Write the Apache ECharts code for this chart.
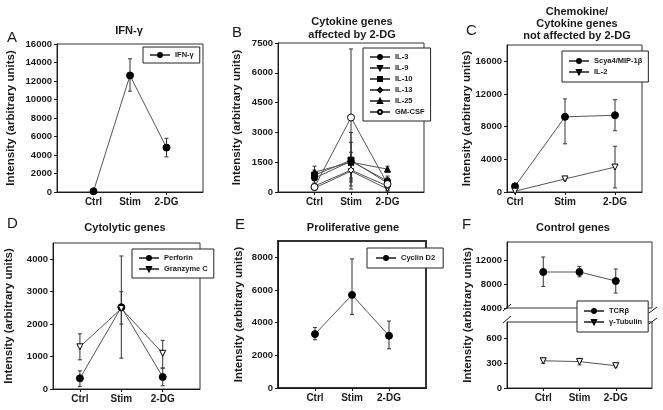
<!DOCTYPE html>
<html>
<head>
<meta charset="utf-8">
<script src="https://cdn.jsdelivr.net/npm/echarts@6.0.0/dist/echarts.min.js"></script>
<style>
  html, body { margin: 0; padding: 0; background: #fff; }
  #main { width: 663px; height: 410px; }
</style>
</head>
<body>
<div id="main"></div>
<script>
const categories = ['Ctrl', 'Stim', '2-DG'];

// A: IFN-gamma
const ifngMean = [80, 12600, 4800];
const ifngLow = [80, 10900, 3800];
const ifngHigh = [80, 14400, 5800];

// B: cytokine genes affected by 2-DG
const il3Mean = [700, 1550, 550];
const il3Low = [400, 150, 300];
const il3High = [1000, 3000, 800];
const il9Mean = [200, 1050, 150];
const il9Low = [100, 600, 50];
const il9High = [300, 1500, 250];
const il10Mean = [850, 1600, 450];
const il10Low = [600, 700, 200];
const il10High = [1100, 2500, 700];
const il13Mean = [300, 1100, 300];
const il13Low = [150, 500, 150];
const il13High = [450, 1700, 450];
const il25Mean = [1000, 1500, 1150];
const il25Low = [750, 1000, 1000];
const il25High = [1300, 2000, 1300];
const gmcsfMean = [250, 3750, 400];
const gmcsfLow = [100, 300, 100];
const gmcsfHigh = [400, 7200, 700];

// C: chemokine / cytokine genes not affected
const scya4Mean = [700, 9200, 9400];
const scya4Low = [500, 5900, 7500];
const scya4High = [900, 11400, 11300];
const il2Mean = [100, 1600, 3050];
const il2Low = [0, 1450, 500];
const il2High = [200, 1750, 5600];

// D: cytolytic genes
const perforinMean = [330, 2520, 370];
const perforinLow = [80, 950, 100];
const perforinHigh = [560, 4100, 640];
const granzymeMean = [1300, 2480, 1100];
const granzymeLow = [900, 2000, 650];
const granzymeHigh = [1700, 3000, 1500];

// E: proliferative gene
const cyclinMean = [3300, 5700, 3200];
const cyclinLow = [2950, 4500, 2400];
const cyclinHigh = [3700, 7900, 4100];

// F: control genes
const tcrMean = [10000, 10000, 8500];
const tcrLow = [7600, 9200, 6500];
const tcrHigh = [12500, 10900, 10500];
const tubulinMean = [330, 320, 270];
const tubulinLow = [300, 280, 255];
const tubulinHigh = [360, 360, 285];

const FONT = '"Liberation Sans", Arial, sans-serif';
const INK = '#1a1a1a';

const DOT = { symbol: 'circle', size: 7 };
const TRI_DOWN_OPEN = { symbol: 'path://M0,0L10,0L5,9Z', size: 6, open: true };
const SQUARE = { symbol: 'rect', size: 6 };
const TRI_UP = { symbol: 'triangle', size: 6 };

function errorBar(params, api) {
  const x = api.value(0);
  const lo = api.coord([x, api.value(1)]);
  const hi = api.coord([x, api.value(2)]);
  const w = 2;
  const style = { stroke: '#333', lineWidth: 1 };
  return {
    type: 'group',
    children: [
      { type: 'line', shape: { x1: lo[0], y1: lo[1], x2: hi[0], y2: hi[1] }, style },
      { type: 'line', shape: { x1: lo[0] - w, y1: lo[1], x2: lo[0] + w, y2: lo[1] }, style },
      { type: 'line', shape: { x1: hi[0] - w, y1: hi[1], x2: hi[0] + w, y2: hi[1] }, style }
    ]
  };
}

const series = [];
function addGene(idx, name, mean, low, high, mark) {
  series.push({
    type: 'custom', name: name + ' err', xAxisIndex: idx, yAxisIndex: idx,
    z: 1, silent: true, renderItem: errorBar, encode: { x: 0, y: [1, 2] },
    data: mean.map((m, i) => [i + 1, low[i], high[i]])
  });
  series.push({
    type: 'line', name, xAxisIndex: idx, yAxisIndex: idx, z: 2,
    data: mean.map((m, i) => [i + 1, m]),
    symbol: mark.symbol, symbolSize: mark.size,
    lineStyle: { color: '#555', width: 1 },
    itemStyle: { color: mark.open ? '#fff' : '#000', borderColor: '#000', borderWidth: 1 },
    emphasis: { disabled: true }
  });
}

addGene(0, 'IFN-γ', ifngMean, ifngLow, ifngHigh, DOT);
addGene(1, 'IL-3', il3Mean, il3Low, il3High, { symbol: 'circle', size: 6 });
addGene(1, 'IL-9', il9Mean, il9Low, il9High, { symbol: 'path://M0,0L10,0L5,9Z', size: 5, open: true });
addGene(1, 'IL-10', il10Mean, il10Low, il10High, SQUARE);
addGene(1, 'IL-13', il13Mean, il13Low, il13High, { symbol: 'diamond', size: 6, open: true });
addGene(1, 'IL-25', il25Mean, il25Low, il25High, TRI_UP);
addGene(1, 'GM-CSF', gmcsfMean, gmcsfLow, gmcsfHigh, { symbol: 'circle', size: 7, open: true });
addGene(2, 'Scya4/MIP-1β', scya4Mean, scya4Low, scya4High, DOT);
addGene(2, 'IL-2', il2Mean, il2Low, il2High, TRI_DOWN_OPEN);
addGene(3, 'Perforin', perforinMean, perforinLow, perforinHigh, DOT);
addGene(3, 'Granzyme C', granzymeMean, granzymeLow, granzymeHigh, TRI_DOWN_OPEN);
addGene(4, 'Cyclin D2', cyclinMean, cyclinLow, cyclinHigh, DOT);
addGene(5, 'TCRβ', tcrMean, tcrLow, tcrHigh, DOT);
addGene(6, 'γ-Tubulin', tubulinMean, tubulinLow, tubulinHigh, TRI_DOWN_OPEN);

// grid boxes in pixels: A, B, C, D, E, F-upper, F-lower
const boxes = [
  [57, 44, 146, 148],
  [278, 43, 146, 149],
  [507, 45, 135, 147],
  [53, 243, 147, 146],
  [278, 241, 148, 147],
  [507, 242, 145, 66],
  [507, 322, 145, 66]
];
const grid = boxes.map((b, i) => ({
  left: b[0], top: b[1], width: b[2], height: b[3],
  show: true, borderColor: '#333', borderWidth: i === 4 ? 2 : 1,
  backgroundColor: 'transparent', containLabel: false, outerBoundsMode: 'none'
}));

const xRanges = [[0, 4], [0, 4], [0.84, 3.54], [0.35, 3.9], [0, 4], [0, 4], [0, 4]];
const xAxis = xRanges.map((r, i) => ({
  type: 'value', gridIndex: i, min: r[0], max: r[1], show: i !== 5,
  axisLine: { show: true, lineStyle: { color: INK, width: 1 } },
  axisTick: { show: true, customValues: [1, 2, 3], length: 3, lineStyle: { color: INK } },
  axisLabel: {
    customValues: [1, 2, 3], formatter: v => categories[Math.round(v) - 1] || '',
    fontSize: 10, fontWeight: 'bold', color: INK, fontFamily: FONT, margin: 5
  },
  splitLine: { show: false }
}));

const yRanges = [
  [0, 16000, 2000, 40], [0, 7500, 1500, 35], [0, 18000, 4000, 34],
  [0, 4500, 1000, 38], [0, 9000, 2000, 33], [4000, 15000, 4000, 0], [0, 800, 300, 0]
];
const yAxis = yRanges.map((r, i) => ({
  type: 'value', gridIndex: i, min: r[0], max: r[1], interval: r[2],
  axisLine: { show: true, lineStyle: { color: INK, width: 1 } },
  axisTick: { show: true, length: 3, lineStyle: { color: INK } },
  axisLabel: {
    fontSize: 9.5, fontWeight: 'bold', color: INK, fontFamily: FONT, margin: 5,
    showMaxLabel: i < 2, formatter: v => String(v)
  },
  splitLine: { show: false },
  name: i < 5 ? 'Intensity (arbitrary units)' : '',
  nameLocation: 'middle', nameRotate: 90, nameGap: r[3], nameMoveOverlap: false,
  nameTextStyle: { fontSize: 11.5, fontWeight: 'bold', color: INK, fontFamily: FONT }
}));

function legendBox(names, left, top, extra) {
  return Object.assign({
    data: names, left, top, orient: 'vertical', selectedMode: false,
    backgroundColor: '#fff', borderColor: '#222', borderWidth: 1, borderRadius: 0,
    padding: [5, 6], itemGap: 3, itemWidth: 20, itemHeight: 5, z: 6,
    textStyle: { fontSize: 7.5, fontWeight: 'bold', color: INK, fontFamily: FONT }
  }, extra || {});
}
const legend = [
  legendBox(['IFN-γ'], 143, 47, { padding: [4, 6] }),
  legendBox(['IL-3', 'IL-9', 'IL-10', 'IL-13', 'IL-25', 'GM-CSF'], 363, 48, { padding: [5, 6] }),
  legendBox(['Scya4/MIP-1β', 'IL-2'], 562, 51, { padding: [6, 6] }),
  legendBox(['Perforin', 'Granzyme C'], 132, 249, { padding: [5, 6] }),
  legendBox(['Cyclin D2'], 367, 248, { padding: [6, 8] }),
  legendBox(['TCRβ', 'γ-Tubulin'], 577, 301, { padding: [6, 6] })
];

function label(text, x, y, size, weight, align, lh) {
  return {
    type: 'text', x, y, z: 7, silent: true,
    style: {
      text, fill: INK, font: weight + ' ' + size + 'px ' + FONT,
      align: align, textAlign: align, verticalAlign: 'middle', textVerticalAlign: 'middle',
      lineHeight: lh || size + 1
    }
  };
}
function stroke(x1, y1, x2, y2) {
  return { type: 'line', z: 7, silent: true, shape: { x1, y1, x2, y2 }, style: { stroke: INK, lineWidth: 1 } };
}

const graphic = [
  // gap of the broken axis in F
  { type: 'rect', z: 3, silent: true, shape: { x: 504, y: 309, width: 152, height: 12 }, style: { fill: '#fff' } },
  stroke(503, 311, 511, 304), stroke(503, 323, 511, 316),
  stroke(649, 313, 657, 307), stroke(649, 324, 657, 318),
  // panel letters
  label('A', 7, 38, 15, 'normal', 'left'),
  label('B', 232, 33, 15, 'normal', 'left'),
  label('C', 466, 31, 15, 'normal', 'left'),
  label('D', 7, 224, 15, 'normal', 'left'),
  label('E', 235, 225, 15, 'normal', 'left'),
  label('F', 462, 225, 15, 'normal', 'left'),
  // panel titles
  label('IFN-γ', 129, 31, 11, 'bold', 'center'),
  label('Cytokine genes\naffected by 2-DG', 352, 28.5, 11, 'bold', 'center', 13),
  label('Chemokine/\nCytokine genes\nnot affected by 2-DG', 577, 24, 11, 'bold', 'center', 12),
  label('Cytolytic genes', 125, 228, 11, 'bold', 'center'),
  label('Proliferative gene', 353, 228, 11, 'bold', 'center'),
  label('Control genes', 573, 228, 11, 'bold', 'center'),
  // y name for the broken axis panel
  Object.assign(label('Intensity (arbitrary units)', 468, 315, 11.5, 'bold', 'center'), { rotation: Math.PI / 2 })
];

const chart = echarts.init(document.getElementById('main'));
chart.setOption({
  animation: false,
  backgroundColor: '#fff',
  textStyle: { fontFamily: FONT },
  grid, xAxis, yAxis, legend, series, graphic
});
</script>
</body>
</html>
